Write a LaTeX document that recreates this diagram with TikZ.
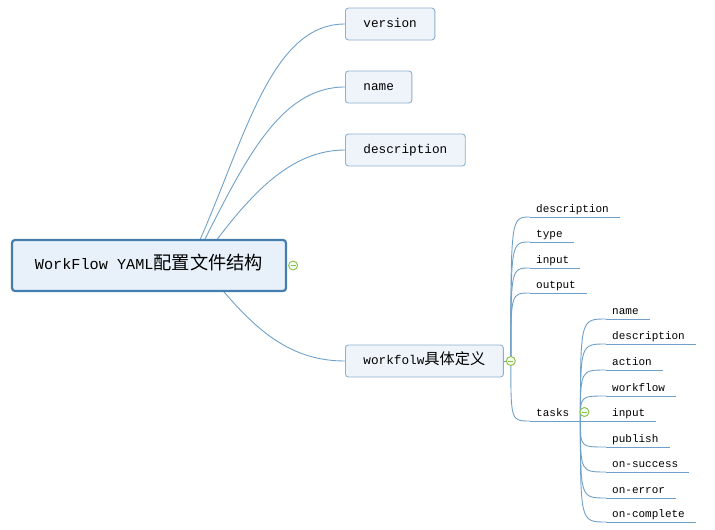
\documentclass[tikz,border=0pt]{standalone}
\usepackage{fontspec}
\setmainfont{Liberation Mono}
\newfontfamily\cjk[Scale=1.2]{Noto Sans CJK SC}
\usetikzlibrary{backgrounds,calc}

\definecolor{linkblue}{RGB}{112,160,200}
\definecolor{topicedge}{RGB}{140,176,206}
\definecolor{topicfill}{RGB}{238,244,250}
\definecolor{rootedge}{RGB}{70,125,175}
\definecolor{rootfill}{RGB}{232,241,250}
\definecolor{knobgreen}{RGB}{140,190,70}

\begin{document}
\begin{tikzpicture}[x=1pt,y=-1pt,
  rootbox/.style={draw=rootedge,line width=2.2pt,rounded corners=3pt,fill=rootfill,minimum width=274pt,minimum height=51pt,font=\fontsize{15.2}{18}\selectfont,text height=11pt,text depth=3pt},
  topic/.style={draw=topicedge,line width=0.9pt,rounded corners=3pt,fill=topicfill,minimum height=32pt,inner xsep=18pt,anchor=west,font=\fontsize{12.7}{15}\selectfont,text height=9pt,text depth=2.5pt},
  leaf/.style={anchor=south west,inner xsep=6pt,inner ysep=1.5pt,font=\fontsize{11}{13}\selectfont,text height=8pt,text depth=2.5pt},
  link/.style={draw=linkblue,line width=0.9pt},
  uline/.style={draw=linkblue,line width=1pt},
  knob/.style={circle,draw=knobgreen,line width=0.9pt,fill=green!6,minimum size=9pt,inner sep=0pt,
    path picture={\draw[knobgreen,line width=0.9pt] ([xshift=-2.5pt]path picture bounding box.center) -- ([xshift=2.5pt]path picture bounding box.center);}}
]
\useasboundingbox (0,0) rectangle (715,530);

% central topic and main branches
\node[rootbox] (root) at (149,265.5) {WorkFlow YAML{\cjk 配置文件结构}};
\node[topic] (version) at (345,24) {version};
\node[topic] (name) at (345,87) {name};
\node[topic] (desc) at (345,150) {description};
\node[topic] (wf) at (345,361) {workfolw{\cjk 具体定义}};

\coordinate (wfhub) at ([xshift=7pt]wf.east);

% workflow children
\node[leaf] (wdesc) at (530,217) {description};
\node[leaf] (wtype) at (530,242) {type};
\node[leaf] (winput) at (530,268) {input};
\node[leaf] (woutput) at (530,293) {output};
\node[leaf] (tasks) at (530,421) {tasks};

\coordinate (taskhub) at ([xshift=5pt]tasks.south east);

% task children
\node[leaf] (tname) at (606,319) {name};
\node[leaf] (tdesc) at (606,344) {description};
\node[leaf] (taction) at (606,370) {action};
\node[leaf] (tworkflow) at (606,396) {workflow};
\node[leaf] (tinput) at (606,421) {input};
\node[leaf] (tpublish) at (606,447) {publish};
\node[leaf] (tsuccess) at (606,472) {on-success};
\node[leaf] (terror) at (606,498) {on-error};
\node[leaf] (tcomplete) at (606,522) {on-complete};

\begin{scope}[on background layer]
\draw[link] ([xshift=47pt,yshift=-10pt]root.north) .. controls (245,140) and (270,24) .. (version.west);
\draw[link] ([xshift=51pt,yshift=-10pt]root.north) .. controls (245,160) and (280,87) .. (name.west);
\draw[link] ([xshift=61pt,yshift=-10pt]root.north) .. controls (250,195) and (290,150) .. (desc.west);
\draw[link] ([xshift=66pt,yshift=11pt]root.south) .. controls (255,330) and (290,361) .. (wf.west);

\draw[link] (wf.east) -- (wfhub);
\draw[link] (wfhub) .. controls (wfhub |- wdesc.south west) .. (wdesc.south west);
\draw[link] (wfhub) .. controls (wfhub |- wtype.south west) .. (wtype.south west);
\draw[link] (wfhub) .. controls (wfhub |- winput.south west) .. (winput.south west);
\draw[link] (wfhub) .. controls (wfhub |- woutput.south west) .. (woutput.south west);
\draw[link] (wfhub) .. controls (wfhub |- tasks.south west) .. (tasks.south west);

\draw[link] (taskhub) .. controls (taskhub |- tname.south west) .. (tname.south west);
\draw[link] (taskhub) .. controls (taskhub |- tdesc.south west) .. (tdesc.south west);
\draw[link] (taskhub) .. controls (taskhub |- taction.south west) .. (taction.south west);
\draw[link] (taskhub) .. controls (taskhub |- tworkflow.south west) .. (tworkflow.south west);
\draw[link] (taskhub) -- (tinput.south west);
\draw[link] (taskhub) .. controls (taskhub |- tpublish.south west) .. (tpublish.south west);
\draw[link] (taskhub) .. controls (taskhub |- tsuccess.south west) .. (tsuccess.south west);
\draw[link] (taskhub) .. controls (taskhub |- terror.south west) .. (terror.south west);
\draw[link] (taskhub) .. controls (taskhub |- tcomplete.south west) .. (tcomplete.south west);
\end{scope}

% underlines
\draw[uline] (wdesc.south west) -- ([xshift=5pt]wdesc.south east);
\draw[uline] (wtype.south west) -- ([xshift=5pt]wtype.south east);
\draw[uline] (winput.south west) -- ([xshift=5pt]winput.south east);
\draw[uline] (woutput.south west) -- ([xshift=5pt]woutput.south east);
\draw[uline] (tasks.south west) -- (taskhub);
\draw[uline] (tname.south west) -- ([xshift=5pt]tname.south east);
\draw[uline] (tdesc.south west) -- ([xshift=5pt]tdesc.south east);
\draw[uline] (taction.south west) -- ([xshift=5pt]taction.south east);
\draw[uline] (tworkflow.south west) -- ([xshift=5pt]tworkflow.south east);
\draw[uline] (tinput.south west) -- ([xshift=5pt]tinput.south east);
\draw[uline] (tpublish.south west) -- ([xshift=5pt]tpublish.south east);
\draw[uline] (tsuccess.south west) -- ([xshift=5pt]tsuccess.south east);
\draw[uline] (terror.south west) -- ([xshift=5pt]terror.south east);
\draw[uline] (tcomplete.south west) -- ([xshift=5pt]tcomplete.south east);

% collapse knobs
\node[knob] (rootknob) at ([xshift=6pt]root.east) {};
\node[knob] (wfknob) at (wfhub) {};
\node[knob] (taskknob) at ([xshift=4pt,yshift=9pt]taskhub) {};

\end{tikzpicture}
\end{document}
